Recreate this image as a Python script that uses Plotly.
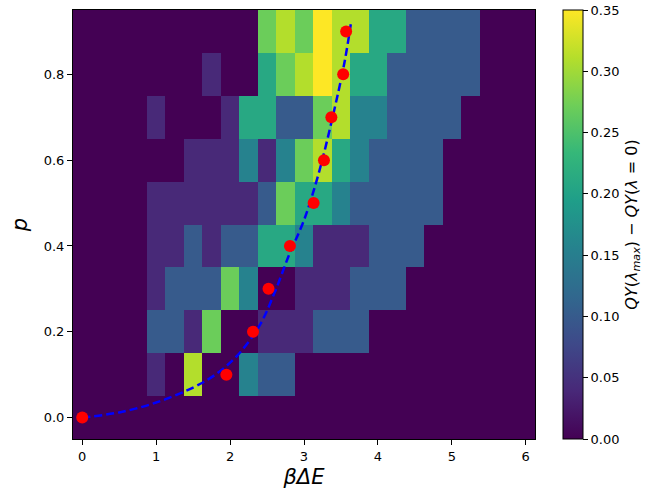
import plotly.graph_objects as go

# Heatmap grid (cell centres)
x_centers = [i * 0.25 for i in range(25)]
y_centers = [round(i * 0.1, 1) for i in range(10)]

# rows from p = 0.0 (bottom) to p = 0.9 (top)
z_p00 = [0] * 25
z_p01 = [0, 0, 0, 0, 0.04, 0, 0.31, 0, 0, 0.155, 0.10, 0.10, 0, 0, 0, 0, 0, 0, 0, 0, 0, 0, 0, 0, 0]
z_p02 = [0, 0, 0, 0, 0.10, 0.10, 0.04, 0.27, 0, 0, 0.04, 0.04, 0.04, 0.10, 0.10, 0.10, 0, 0, 0, 0, 0, 0, 0, 0, 0]
z_p03 = [0, 0, 0, 0, 0.04, 0.10, 0.10, 0.10, 0.27, 0.155, 0, 0, 0.04, 0.04, 0.04, 0.10, 0.10, 0.10, 0, 0, 0, 0, 0, 0, 0]
z_p04 = [0, 0, 0, 0, 0.04, 0.04, 0.10, 0.04, 0.10, 0.10, 0.21, 0.21, 0.155, 0.04, 0.04, 0.04, 0.10, 0.10, 0.10, 0, 0, 0, 0, 0, 0]
z_p05 = [0, 0, 0, 0, 0.04, 0.04, 0.04, 0.04, 0.04, 0.04, 0.10, 0.27, 0.21, 0.21, 0.155, 0.10, 0.10, 0.10, 0.10, 0.10, 0, 0, 0, 0, 0]
z_p06 = [0, 0, 0, 0, 0, 0, 0.04, 0.04, 0.04, 0.155, 0.04, 0.155, 0.27, 0.31, 0.21, 0.155, 0.10, 0.10, 0.10, 0.10, 0, 0, 0, 0, 0]
z_p07 = [0, 0, 0, 0, 0.04, 0, 0, 0, 0.04, 0.21, 0.21, 0.10, 0.10, 0.27, 0.31, 0.155, 0.155, 0.10, 0.10, 0.10, 0.10, 0, 0, 0, 0]
z_p08 = [0, 0, 0, 0, 0, 0, 0, 0.04, 0, 0, 0.21, 0.27, 0.31, 0.35, 0.31, 0.21, 0.21, 0.10, 0.10, 0.10, 0.10, 0.10, 0, 0, 0]
z_p09 = [0, 0, 0, 0, 0, 0, 0, 0, 0, 0, 0.27, 0.31, 0.27, 0.35, 0.31, 0.31, 0.21, 0.21, 0.10, 0.10, 0.10, 0.10, 0, 0, 0]

# red points
pts_x = [0.0, 1.95, 2.31, 2.52, 2.81, 3.13, 3.27, 3.37, 3.53, 3.57]
pts_y = [0.0, 0.10, 0.20, 0.30, 0.40, 0.50, 0.60, 0.70, 0.80, 0.90]

# dashed blue curve
curve_x = [0.0, 0.5, 1.0, 1.5, 1.8, 2.1, 2.4, 2.6, 2.8, 3.0, 3.2, 3.4, 3.55, 3.64]
curve_y = [0.0, 0.012, 0.035, 0.07, 0.10, 0.145, 0.215, 0.29, 0.38, 0.46, 0.57, 0.71, 0.83, 0.925]

z = [z_p00, z_p01, z_p02, z_p03, z_p04, z_p05, z_p06, z_p07, z_p08, z_p09]

fig = go.Figure()
fig.add_trace(go.Heatmap(
    x=x_centers, y=y_centers, z=z,
    colorscale="Viridis", zmin=0, zmax=0.35,
    colorbar=dict(
        x=1.06, xanchor="left", xref="paper", xpad=0, ypad=0,
        y=0, yanchor="bottom", len=1, lenmode="fraction",
        thickness=20, outlinecolor="black", outlinewidth=1,
        ticks="outside", ticklen=5, tickcolor="black",
        tickvals=[0, 0.05, 0.1, 0.15, 0.2, 0.25, 0.3, 0.35],
        tickformat=".2f",
        tickfont=dict(family="DejaVu Sans", size=13, color="black"),
        title=dict(text="<i>QY</i>(<i>λ</i><sub><i>max</i></sub>) − <i>QY</i>(<i>λ</i> = 0)",
                   side="right", font=dict(family="DejaVu Sans", size=16, color="black")),
    ),
    hoverinfo="skip",
))
fig.add_trace(go.Scatter(
    x=curve_x, y=curve_y, mode="lines",
    line=dict(color="blue", width=2.5, dash="8px,4px", shape="spline"),
    showlegend=False,
))
fig.add_trace(go.Scatter(
    x=pts_x, y=pts_y, mode="markers",
    marker=dict(color="red", size=12, line=dict(width=0)),
    showlegend=False,
))

axis_common = dict(
    showline=True, linecolor="black", linewidth=1, mirror=True,
    ticks="outside", ticklen=5, tickcolor="black",
    showgrid=False, zeroline=False,
    tickfont=dict(family="DejaVu Sans", size=13, color="black"),
)
fig.update_layout(
    width=659, height=500,
    margin=dict(l=73, r=124, t=10, b=61, autoexpand=False),
    paper_bgcolor="white", plot_bgcolor="white",
    showlegend=False,
    xaxis=dict(range=[-0.125, 6.125], tickvals=[0, 1, 2, 3, 4, 5, 6],
               title=dict(text="<i>βΔE</i>", font=dict(family="DejaVu Sans", size=21, color="black"), standoff=6),
               **axis_common),
    yaxis=dict(range=[-0.05, 0.95], tickvals=[0, 0.2, 0.4, 0.6, 0.8], tickformat=".1f",
               title=dict(text="<i>p</i>", font=dict(family="DejaVu Sans", size=21, color="black"), standoff=10),
               **axis_common),
)
fig.write_html("out.html")
